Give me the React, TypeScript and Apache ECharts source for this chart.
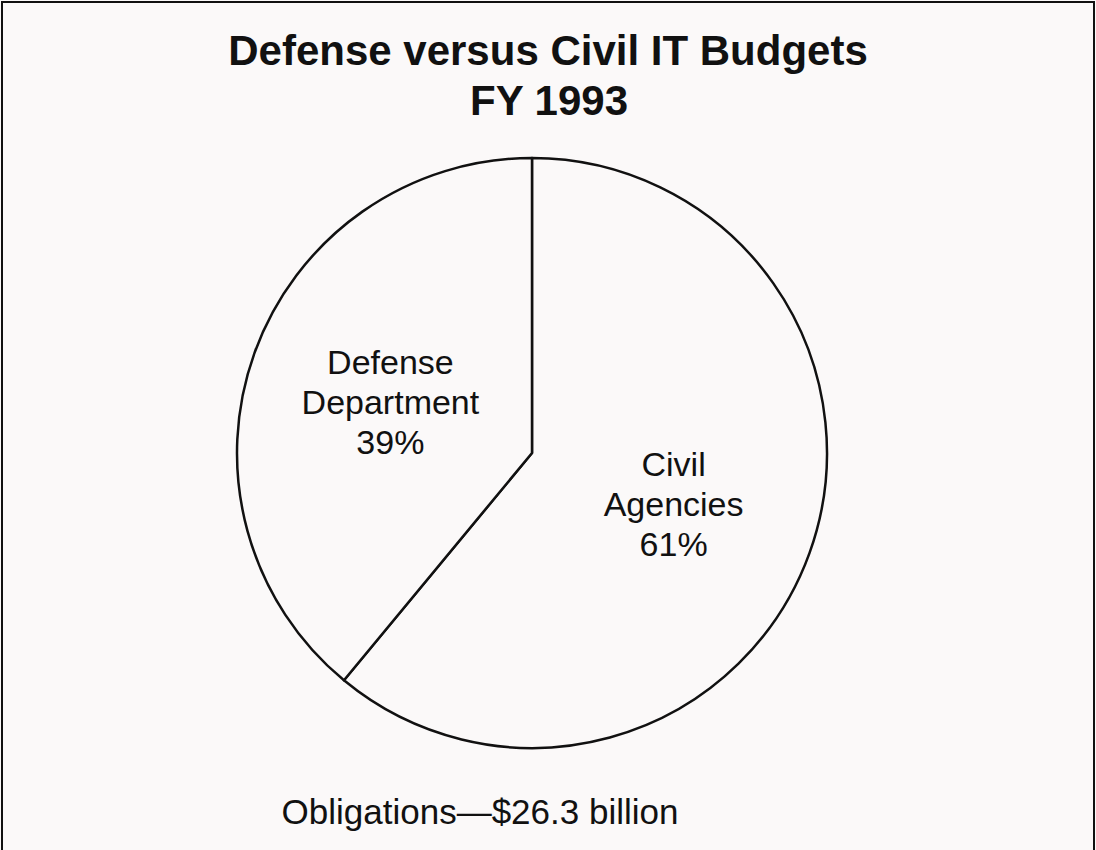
import React, { useEffect, useRef } from "react";
import * as echarts from "echarts";

const categories = ["Civil Agencies", "Defense Department"];
const labelLines = ["Civil\nAgencies", "Defense\nDepartment"];
const shares = [61, 39];
const titleLines = ["Defense versus Civil IT Budgets", "FY 1993"];
const footnote = "Obligations\u2014$26.3 billion";

export default function App() {
  const ref = useRef<HTMLDivElement>(null);
  useEffect(() => {
    const chart = echarts.init(ref.current!, null, { renderer: "svg" });
    const font = "'Liberation Sans', Arial, Helvetica, sans-serif";
    chart.setOption({
      animation: false,
      backgroundColor: "#fbf9f9",
      graphic: [
        {
          type: "rect",
          shape: { x: 2, y: 2, width: 1092, height: 870 },
          style: { fill: "none", stroke: "#111", lineWidth: 2 },
          silent: true,
        },
        {
          type: "text",
          x: 548,
          y: 50,
          style: {
            text: titleLines[0],
            font: `bold 42px ${font}`,
            fill: "#111",
            align: "center",
            verticalAlign: "middle",
          },
        },
        {
          type: "text",
          x: 549,
          y: 100,
          style: {
            text: titleLines[1],
            font: `bold 42px ${font}`,
            fill: "#111",
            align: "center",
            verticalAlign: "middle",
          },
        },
        {
          type: "text",
          x: 480,
          y: 811,
          style: {
            text: footnote,
            font: `35px ${font}`,
            fill: "#111",
            align: "center",
            verticalAlign: "middle",
          },
        },
      ],
      series: [
        {
          type: "pie",
          center: [532, 453],
          radius: [0, 295],
          startAngle: 90,
          clockwise: true,
          silent: true,
          itemStyle: { color: "#fbf9f9", borderColor: "#111", borderWidth: 2.5 },
          label: {
            show: true,
            position: "inside",
            color: "#111",
            fontFamily: font,
            fontSize: 34,
            lineHeight: 40,
            align: "center",
            formatter: (p: any) => `${labelLines[p.dataIndex]}\n${p.value}%`,
          },
          labelLine: { show: false },
          data: categories.map((c, i) => ({ name: c, value: shares[i] })),
        },
      ],
    });
    return () => chart.dispose();
  }, []);
  return (
    <div
      ref={ref}
      style={{ position: "fixed", left: 0, top: 0, width: 1096, height: 850 }}
    />
  );
}
